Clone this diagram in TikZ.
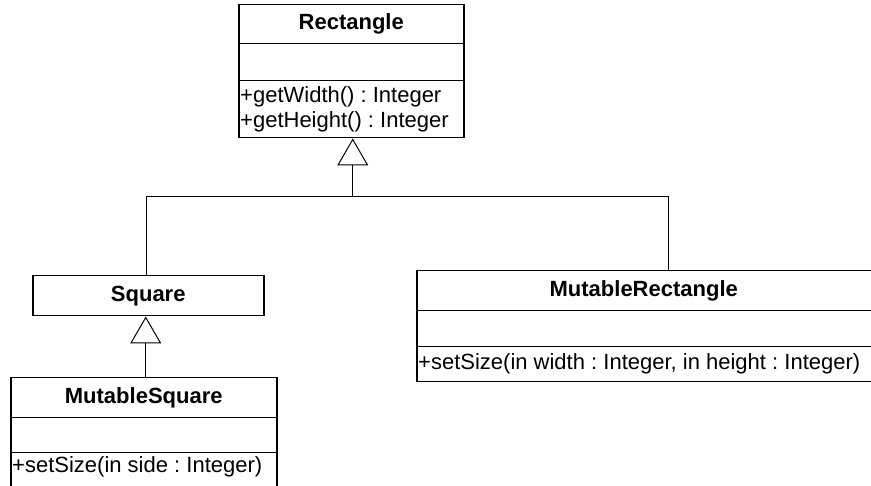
\documentclass[tikz,border=0pt]{standalone}
\usepackage{fontspec}
\setmainfont{Liberation Sans}
\usetikzlibrary{arrows.meta}
\frenchspacing
\tikzset{
  umlfont/.style={font=\fontsize{22pt}{25pt}\selectfont},
  compartment/.style={draw=black, line width=1.5pt, inner sep=0pt, anchor=north west},
  classname/.style={compartment, font=\fontsize{22pt}{25pt}\selectfont\bfseries},
  member/.style={umlfont, inner sep=0pt, anchor=west},
  link/.style={draw=black, line width=1pt},
  generalization/.style={link, -{Triangle[open, length=27pt, width=31pt, line width=1pt]}}
}
\begin{document}
\begin{tikzpicture}[x=1pt, y=-1pt]
  \path[use as bounding box, fill=white] (0,0) rectangle (871,486);
  \clip (0,0) rectangle (871,486);

  % Rectangle
  \node[classname, minimum width=225pt, minimum height=39pt] (rect) at (238,4) {Rectangle};
  \node[compartment, minimum width=225pt, minimum height=37pt] (rectattr) at (238,43) {};
  \node[compartment, minimum width=225pt, minimum height=57pt] (rectops) at (238,80) {};
  \node[member] (rectop1) at (240,97) {+getWidth() : Integer};
  \node[member] (rectop2) at (240,122) {+getHeight() : Integer};

  % Square
  \node[classname, minimum width=231pt, minimum height=40pt] (sq) at (32,275) {Square};

  % MutableSquare
  \node[classname, minimum width=266pt, minimum height=40pt] (msq) at (10,377) {MutableSquare};
  \node[compartment, minimum width=266pt, minimum height=35pt] (msqattr) at (10,417) {};
  \node[compartment, minimum width=266pt, minimum height=45pt] (msqops) at (10,452) {};
  \node[member] (msqop1) at (12,467) {+setSize(in side : Integer)};

  % MutableRectangle (runs past the right edge)
  \node[classname, minimum width=466pt, minimum height=40pt] (mr) at (416,270) {\hspace*{-12pt}MutableRectangle};
  \node[compartment, minimum width=466pt, minimum height=36pt] (mrattr) at (416,310) {};
  \node[compartment, minimum width=466pt, minimum height=35pt] (mrops) at (416,346) {};
  \node[member] (mrop1) at (418,363.5) {+setSize(in width : Integer, in height : Integer)};

  % generalization connectors
  \path ([xshift=1.5pt]rectops.south) ++(0,58) coordinate (join);
  \path ([xshift=-1.5pt]sq.north) coordinate (sqtop);
  \path ([xshift=252pt]mr.north west) coordinate (mrtop);
  \path ([xshift=2pt]msq.north) coordinate (msqtop);

  \draw[link] (sqtop) |- (join);
  \draw[link] (mrtop) |- (join);
  \draw[generalization] (join) -- (join |- rectops.south);
  \draw[generalization] (msqtop) -- (msqtop |- sq.south);
\end{tikzpicture}
\end{document}
